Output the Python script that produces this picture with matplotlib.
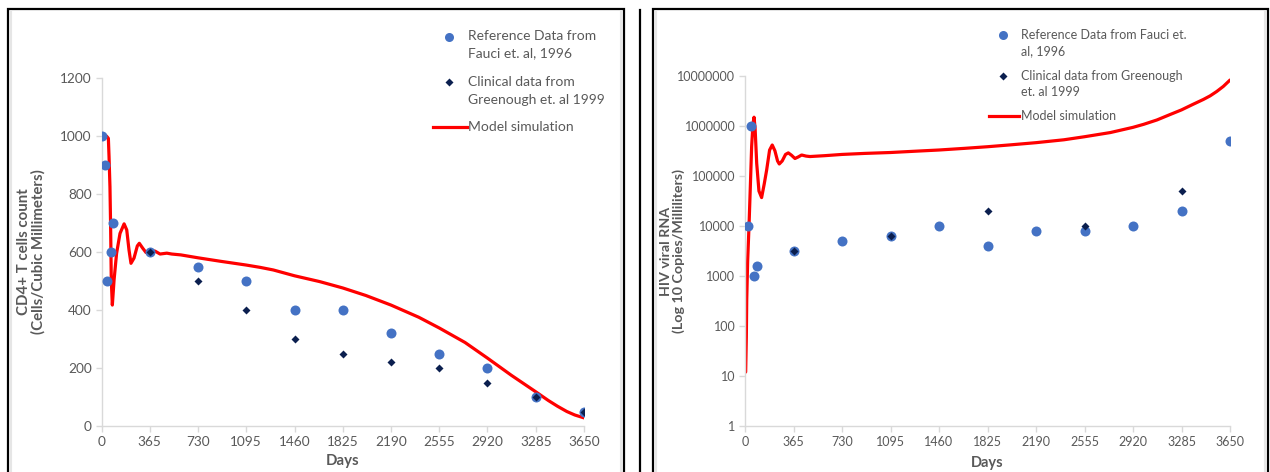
import matplotlib
matplotlib.use("Agg")
import matplotlib.pyplot as plt
import matplotlib.ticker as mticker
from matplotlib.lines import Line2D
from matplotlib.patches import Rectangle

plt.rcParams.update({
    "font.family": ["Lato", "DejaVu Sans"],
    "font.size": 9,
})

W, H = 1270, 472

# ---- Data: CD4+ T cells ----
cd4_ref_days = [0, 30, 45, 70, 90, 365, 730, 1095, 1460, 1825, 2190, 2555, 2920, 3285, 3650]
cd4_ref_vals = [1000, 900, 500, 600, 700, 600, 550, 500, 400, 400, 320, 250, 200, 100, 50]
cd4_clin_days = [365, 730, 1095, 1460, 1825, 2190, 2555, 2920, 3285, 3650]
cd4_clin_vals = [600, 500, 400, 300, 250, 220, 200, 150, 100, 50]
cd4_model_days = [37, 52, 57, 64, 69, 74, 82, 95, 114, 140, 171, 191, 208, 223, 246,
                  271, 286, 312, 337, 362, 405, 443, 494, 531, 600, 730, 900, 1095,
                  1200, 1300, 1460, 1650, 1825, 2000, 2190, 2400, 2555, 2750, 2920, 3100,
                  3285, 3380, 3450, 3520, 3580, 3650]
cd4_model_vals = [1000, 992, 929, 825, 687, 503, 417, 503, 595, 664, 697, 676, 607, 561, 579,
                  621, 630, 613, 598, 605, 603, 593, 596, 593, 590, 580, 568, 555,
                  547, 538, 518, 498, 476, 450, 417, 375, 338, 288, 234, 175,
                  118, 88, 68, 50, 38, 28]

# ---- Data: HIV viral RNA ----
rna_ref_days = [26, 47, 68, 89, 365, 730, 1095, 1460, 1825, 2190, 2555, 2920, 3285, 3650]
rna_ref_vals = [10000, 1000000, 1000, 1600, 3200, 5000, 6300, 10000, 4000, 8000, 8000, 10000, 20000, 500000]
rna_clin_days = [365, 1095, 1825, 2555, 3285]
rna_clin_vals = [3200, 6300, 20000, 10000, 50000]
rna_model_days = [5, 10, 13, 20, 30, 40, 50, 60, 68, 76, 88, 105, 125, 145, 163, 185, 205,
                  225, 245, 258, 280, 305, 326, 350, 376, 400, 426, 460, 489, 600, 730,
                  900, 1095, 1300, 1460, 1650, 1825, 2000, 2190, 2400, 2555, 2750, 2920,
                  3000, 3100, 3200, 3285, 3370, 3450, 3500, 3550, 3600, 3650]
rna_model_vals = [12, 60, 330, 2000, 9700, 60000, 390000, 1100000, 1500000, 900000, 180000,
                  50000, 37000, 70000, 132000, 330000, 417000, 320000, 200000, 174000,
                  200000, 270000, 290000, 260000, 224000, 240000, 263000, 250000, 245000,
                  255000, 270000, 283000, 295000, 315000, 331000, 357000, 385000, 420000,
                  464000, 530000, 610000, 740000, 940000, 1080000, 1320000, 1700000,
                  2100000, 2700000, 3400000, 4000000, 4900000, 6200000, 8300000]

x_ticks = [0, 365, 730, 1095, 1460, 1825, 2190, 2555, 2920, 3285, 3650]
cd4_yticks = [0, 200, 400, 600, 800, 1000, 1200]
rna_yticks = [1, 10, 100, 1000, 10000, 100000, 1000000, 10000000]

REF_COLOR = "#4472c4"
CLIN_COLOR = "#0b1f4f"
MODEL_COLOR = "#ff0000"
TEXT_COLOR = "#595959"
AXIS_COLOR = "#d9d9d9"


def px_axes(fig, x0, x1, y_top, y_bot):
    return fig.add_axes([x0 / W, 1 - y_bot / H, (x1 - x0) / W, (y_bot - y_top) / H])


def style_axes(ax, tick_size):
    for s in ["top", "right"]:
        ax.spines[s].set_visible(False)
    for s in ["left", "bottom"]:
        ax.spines[s].set_color(AXIS_COLOR)
        ax.spines[s].set_linewidth(1.0)
    ax.tick_params(axis="both", which="major", colors=AXIS_COLOR, labelcolor=TEXT_COLOR,
                   length=4, width=1, labelsize=tick_size, pad=3)
    ax.tick_params(axis="both", which="minor", length=0)
    ax.set_xlim(0, 3650)
    ax.set_xticks(x_ticks)


def draw_series(ax, ref_d, ref_v, clin_d, clin_v, mod_d, mod_v):
    ax.plot(mod_d, mod_v, color=MODEL_COLOR, lw=2.3, zorder=2,
            solid_capstyle="round", solid_joinstyle="round")
    ax.plot(ref_d, ref_v, "o", color=REF_COLOR, ms=7.2, mec="none", zorder=3)
    ax.plot(clin_d, clin_v, "D", color=CLIN_COLOR, ms=4.4, mec="none", zorder=4)


def legend(fig, xm, line_x, xt, rows, size):
    # rows: (kind, y of key, [(text, y), ...]) in pixels from top
    for kind, y, lines in rows:
        if kind == "ref":
            fig.add_artist(Line2D([xm / W], [1 - y / H], marker="o", ms=6.5,
                                  color=REF_COLOR, mec="none", ls="none"))
        elif kind == "clin":
            fig.add_artist(Line2D([xm / W], [1 - y / H], marker="D", ms=4,
                                  color=CLIN_COLOR, mec="none", ls="none"))
        else:
            fig.add_artist(Line2D([line_x[0] / W, line_x[1] / W], [1 - y / H, 1 - y / H],
                                  color=MODEL_COLOR, lw=2.3))
        for txt, yy in lines:
            fig.text(xt / W, 1 - yy / H, txt, ha="left", va="center",
                     fontsize=size, color=TEXT_COLOR)


fig = plt.figure(figsize=(W / 100, H / 100), dpi=100)

# panel frames
for (x0, x1) in [(7.5, 624), (652.5, 1267.5)]:
    fig.add_artist(Rectangle((x0 / W, -0.05), (x1 - x0) / W, 1.05 - 9 / H,
                             fill=False, ec="black", lw=1.6, transform=fig.transFigure))
    fig.add_artist(Line2D([(x0 + 3) / W, (x0 + 3) / W], [0, 1 - 12 / H],
                          color="#e6e6e6", lw=1.5))
    fig.add_artist(Line2D([(x1 - 3) / W, (x1 - 3) / W], [0, 1 - 12 / H],
                          color="#e6e6e6", lw=1.5))
fig.add_artist(Line2D([640 / W, 640 / W], [0, 1 - 10 / H], color="black", lw=1.6))

# ---- Left: CD4+ ----
ax1 = px_axes(fig, 101.5, 584, 78, 426)
style_axes(ax1, 9.8)
draw_series(ax1, cd4_ref_days, cd4_ref_vals, cd4_clin_days, cd4_clin_vals,
            cd4_model_days, cd4_model_vals)
ax1.set_ylim(0, 1200)
ax1.set_yticks(cd4_yticks)
ax1.set_xlabel("Days", fontweight="bold", color=TEXT_COLOR, fontsize=10.8, va="center")
ax1.xaxis.set_label_coords(0.5, -(461 - 426) / 348)
ax1.set_ylabel("CD4+ T cells count\n(Cells/Cubic Millimeters)", fontweight="bold",
               color=TEXT_COLOR, fontsize=10.8, va="center", linespacing=1.05)
ax1.yaxis.set_label_coords(-(101.5 - 31.5) / 482.5, 0.5)

legend(fig, 449, (432.5, 467), 468, [
    ("ref", 36.5, [("Reference Data from", 35.5), ("Fauci et. al, 1996", 53.5)]),
    ("clin", 82, [("Clinical data from", 82), ("Greenough et. al 1999", 100)]),
    ("model", 127, [("Model simulation", 127)]),
], 10)

# ---- Right: HIV RNA ----
ax2 = px_axes(fig, 745, 1230, 76, 426)
style_axes(ax2, 9.0)
draw_series(ax2, rna_ref_days, rna_ref_vals, rna_clin_days, rna_clin_vals,
            rna_model_days, rna_model_vals)
ax2.set_yscale("log")
ax2.set_ylim(1, 10000000)
ax2.yaxis.set_major_locator(mticker.FixedLocator(rna_yticks))
ax2.yaxis.set_minor_locator(mticker.NullLocator())
ax2.yaxis.set_major_formatter(mticker.FuncFormatter(lambda v, p: f"{int(round(v))}"))
ax2.set_xlabel("Days", fontweight="bold", color=TEXT_COLOR, fontsize=10.5, va="center")
ax2.xaxis.set_label_coords(0.5, -(463 - 426) / 350)
ax2.set_ylabel("HIV viral RNA\n(Log 10 Copies/Milliliters)", fontweight="bold",
               color=TEXT_COLOR, fontsize=10.3, va="center", linespacing=1.05)
ax2.yaxis.set_label_coords(-(745 - 672.5) / 485, 0.5)

legend(fig, 1003.5, (989, 1019.5), 1021, [
    ("ref", 35, [("Reference Data from Fauci et.", 35), ("al, 1996", 51)]),
    ("clin", 75.5, [("Clinical data from Greenough", 75.5), ("et. al 1999", 91.5)]),
    ("model", 116, [("Model simulation", 116)]),
], 9)

fig.savefig("out.png", dpi=100)
